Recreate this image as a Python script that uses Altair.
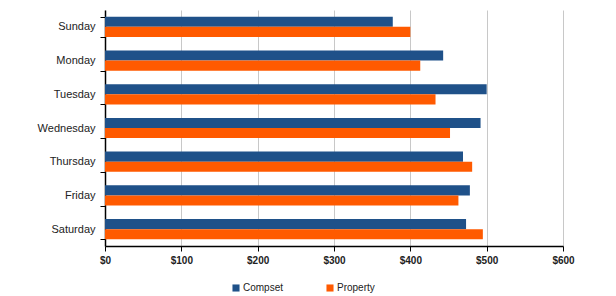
import altair as alt
import pandas as pd

days = ["Sunday", "Monday", "Tuesday", "Wednesday", "Thursday", "Friday", "Saturday"]
series = ["Compset", "Property"]
compset = [377, 443, 500, 492, 469, 478, 473]
prop = [400, 413, 433, 452, 481, 463, 495]
colors = ["#1F5189", "#FF5A00"]

rows = []
for d, c, p in zip(days, compset, prop):
    rows.append({"day": d, "series": "Compset", "value": c})
    rows.append({"day": d, "series": "Property", "value": p})
df = pd.DataFrame(rows)

chart = alt.Chart(df).mark_bar().encode(
    x=alt.X("value:Q",
            scale=alt.Scale(domain=[0, 600], nice=False),
            axis=alt.Axis(title=None, values=[0, 100, 200, 300, 400, 500, 600],
                          format="$,.0f", labelFontWeight="bold", labelFontSize=10,
                          labelFont="Liberation Sans", labelColor="#222",
                          labelFlush=False,
                          grid=True, gridColor="#c8c8c8", gridWidth=1,
                          domainColor="#000", domainWidth=1.5, tickColor="#000",
                          tickSize=5, labelPadding=4)),
    y=alt.Y("day:N", sort=days,
            scale=alt.Scale(paddingInner=0.4, paddingOuter=0.2),
            axis=alt.Axis(title=None, labelFont="Liberation Sans", labelFontSize=11,
                          labelColor="#222", domainColor="#000", domainWidth=1.5,
                          tickColor="#000", tickSize=5, tickBand="extent",
                          labelPadding=5, grid=False)),
    yOffset=alt.YOffset("series:N", sort=series),
    color=alt.Color("series:N", sort=series,
                    scale=alt.Scale(domain=series, range=colors),
                    legend=alt.Legend(title=None, orient="none", direction="horizontal",
                                      legendX=126, legendY=273, symbolType="square",
                                      symbolSize=50, symbolStrokeWidth=0,
                                      labelFont="Liberation Sans", labelFontSize=10,
                                      labelColor="#222", columnPadding=41,
                                      labelOffset=2)),
).properties(
    width=458, height=236,
    autosize=alt.AutoSizeParams(type="none"),
    padding={"left": 97, "top": 2, "right": 20, "bottom": 50},
).configure_view(stroke=None)

chart.save("out.html", embed_options={"renderer": "svg", "actions": False})
